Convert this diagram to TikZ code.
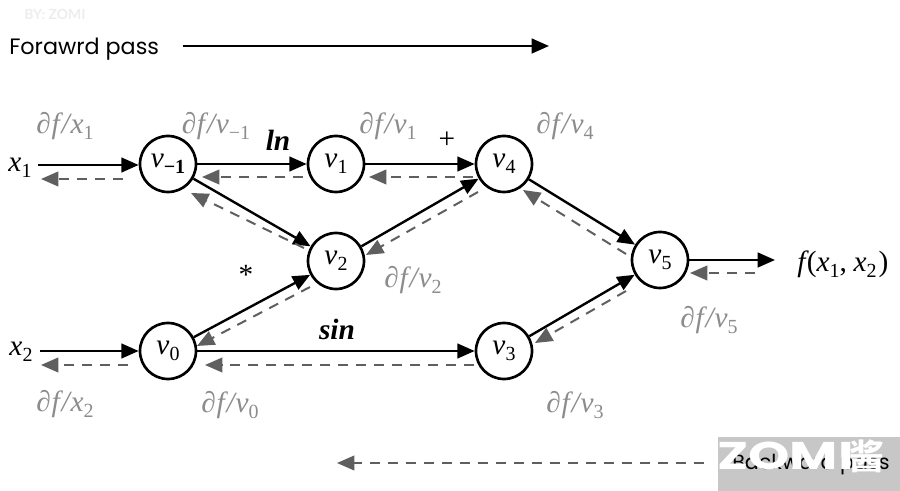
\documentclass[tikz,border=0pt]{standalone}
\usepackage{fontspec}
\setmainfont{Poppins}
\newfontfamily\cjkf{Noto Sans CJK SC}
\newfontfamily\mkf{Lato}
\newfontfamily\mf{Liberation Serif}
\usetikzlibrary{arrows.meta}
\definecolor{backc}{RGB}{95,95,95}
\definecolor{labc}{RGB}{140,140,140}
\newcommand\vi[1]{{\mf\itshape #1}}
\newcommand\sbs[1]{\raisebox{-4.5pt}{\fontsize{15}{15}\selectfont\mf #1}}
\newcommand\pdf{{\mf\itshape\char"2202\kern0.5pt f\kern1.5pt/\kern0.5pt}}
\tikzset{
  x=0.75pt,y=-0.75pt,
  vnode/.style={circle,draw=black,line width=2pt,minimum size=42pt,inner sep=0pt,font=\fontsize{22}{22}\selectfont},
  fwd/.style={draw=black,line width=1.8pt,-{Triangle[length=13pt,width=11pt]}},
  bwd/.style={draw=backc,line width=1.5pt,dash pattern=on 7.5pt off 6pt,-{Triangle[length=13pt,width=11pt,color=backc]}},
  glabel/.style={text=labc,font=\fontsize{22}{22}\selectfont,inner sep=0pt},
  blabel/.style={text=black,font=\fontsize{22}{22}\selectfont,inner sep=0pt},
  ptext/.style={font=\fontsize{15.5}{15.5}\selectfont,inner sep=0pt},
}
\begin{document}
\begin{tikzpicture}
\useasboundingbox (0,0) rectangle (900,491);
% top and bottom legend
\node[text=black!7,font=\fontsize{10.5}{10.5}\selectfont\mkf\bfseries,inner sep=0pt,anchor=west] (wm) at (24,14) {BY: ZOMI};
\node[ptext,anchor=west,font=\fontsize{16.7}{16.7}\selectfont] (fp) at (9,49) {Forawrd pass};
\coordinate (fa) at (183,46); \coordinate (fb) at (549,46);
\draw[fwd] (fa) -- (fb);
\coordinate (ba) at (704,463); \coordinate (bb) at (337,463);
\draw[bwd] (ba) -- (bb);
\fill[black!22] (718,437) rectangle (900,491);
\node[ptext,anchor=west] (bp) at (732,465) {Backward pass};
\node[text=white,inner sep=0pt,font=\fontsize{29}{29}\selectfont\bfseries,anchor=west] (zm) at (717,456) {\scalebox{1.36}[1]{ZOMI}};
\node[text=white,inner sep=0pt,font=\fontsize{26}{26}\selectfont\cjkf\bfseries,anchor=west] (zj) at (849,456) {酱};
% nodes
\node[vnode] (vm) at (168,164) {\vi{v}\sbs{\textbf{−1}}};
\node[vnode] (v1) at (336,164) {\vi{v}\sbs{1}};
\node[vnode] (v4) at (504,164) {\vi{v}\sbs{4}};
\node[vnode] (v2) at (336,261) {\vi{v}\sbs{2}};
\node[vnode] (v5) at (660,260) {\vi{v}\sbs{5}};
\node[vnode] (v3) at (504,351) {\vi{v}\sbs{3}};
\node[vnode] (v0) at (168,351) {\vi{v}\sbs{0}};
\node[blabel] (x1) at (20,168) {\vi{x}\sbs{1}};
\node[blabel] (x2) at (21,352) {\vi{x}\sbs{2}};
\node[blabel,anchor=west] (f) at (797,264) {\vi{f}\kern1pt{\mf(}\vi{x}\sbs{1}{\mf,\kern5pt}\vi{x}\sbs{2}\kern1.5pt{\mf)}};
% free ends
\coordinate (x1o) at (38,165); \coordinate (x1i) at (41,179);
\coordinate (x2o) at (40,351); \coordinate (x2i) at (41,365);
\coordinate (fo) at (775,260);
% forward
\draw[fwd] (x1o) -- (vm.west |- x1o);
\draw[fwd] (x2o) -- (v0.west);
\draw[fwd] (vm) -- (v1);
\draw[fwd] (v1) -- (v4);
\draw[fwd] (vm) -- (v2);
\draw[fwd] (v0) -- (v2);
\draw[fwd] (v2) -- (v4);
\draw[fwd] (v0) -- (v3);
\draw[fwd] (v4) -- (v5);
\draw[fwd] (v3) -- (v5);
\draw[fwd] (v5) -- (fo);
% backward ends
\coordinate (b1s) at (123,179);
\coordinate (b2s) at (303,177); \coordinate (b2e) at (202,177);
\coordinate (b3s) at (473,177); \coordinate (b3e) at (369,177);
\coordinate (b4s) at (304,248); \coordinate (b4e) at (191,193);
\coordinate (b5s) at (310,287); \coordinate (b5e) at (197,346);
\coordinate (b6s) at (478,192); \coordinate (b6e) at (366,255);
\coordinate (b7s) at (474,365); \coordinate (b7e) at (205,365);
\coordinate (b8s) at (626,291); \coordinate (b8e) at (535,343);
\coordinate (b9s) at (626,254); \coordinate (b9e) at (523,190);
\coordinate (b10s) at (755,273); \coordinate (b10e) at (690,273);
\coordinate (b11s) at (128,365);
\draw[bwd] (b1s) -- (x1i);
\draw[bwd] (b2s) -- (b2e);
\draw[bwd] (b3s) -- (b3e);
\draw[bwd] (b4s) -- (b4e);
\draw[bwd] (b5s) -- (b5e);
\draw[bwd] (b6s) -- (b6e);
\draw[bwd] (b7s) -- (b7e);
\draw[bwd] (b8s) -- (b8e);
\draw[bwd] (b9s) -- (b9e);
\draw[bwd] (b10s) -- (b10e);
\draw[bwd] (b11s) -- (x2i);
% labels
\node[glabel] (l1) at (65,126) {\pdf\vi{x}\sbs{1}};
\node[glabel] (l2) at (216,126) {\pdf\vi{v}\sbs{−1}};
\node[glabel] (l3) at (388,126) {\pdf\vi{v}\sbs{1}};
\node[glabel] (l4) at (565,126) {\pdf\vi{v}\sbs{4}};
\node[glabel] (l5) at (413,280) {\pdf\vi{v}\sbs{2}};
\node[glabel] (l6) at (709,320) {\pdf\vi{v}\sbs{5}};
\node[glabel] (l7) at (65,404) {\pdf\vi{x}\sbs{2}};
\node[glabel] (l8) at (230,405) {\pdf\vi{v}\sbs{0}};
\node[glabel] (l9) at (575,405) {\pdf\vi{v}\sbs{3}};
\node[blabel] (ln) at (278,140) {{\mf\itshape\bfseries ln}};
\node[blabel] (pl) at (447,140) {{\mf +}};
\node[blabel] (st) at (246,275) {{\mf *}};
\node[blabel] (sn) at (337,329) {{\mf\itshape\bfseries sin}};
\end{tikzpicture}
\end{document}
